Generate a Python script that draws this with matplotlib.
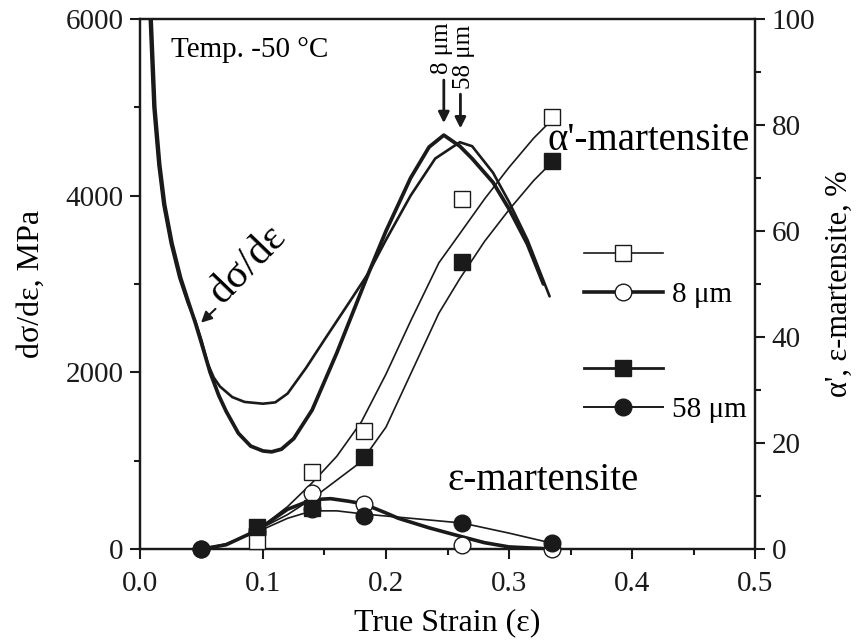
import matplotlib
matplotlib.use("Agg")
import matplotlib.pyplot as plt
from matplotlib.lines import Line2D

plt.rcParams['font.family'] = ['Liberation Serif', 'DejaVu Serif']
plt.rcParams['mathtext.fontset'] = 'stix'

# ---- strain-hardening rate curves (left axis, MPa) ----
hr_x_8 = [0.009, 0.012, 0.016, 0.020, 0.026, 0.033, 0.040, 0.045, 0.050, 0.057, 0.064, 0.07,
          0.08, 0.09, 0.10, 0.107, 0.115, 0.125, 0.14, 0.16, 0.186, 0.20, 0.22, 0.235, 0.247,
          0.26, 0.27, 0.287, 0.30, 0.315, 0.328]
hr_y_8 = [6000, 5000, 4350, 3900, 3460, 3070, 2770, 2560, 2330, 2000, 1740, 1560,
          1310, 1165, 1110, 1100, 1130, 1250, 1575, 2220, 3130, 3600, 4200, 4550, 4685,
          4560, 4420, 4150, 3850, 3450, 3000]
hr_x_58 = [0.008, 0.011, 0.015, 0.019, 0.025, 0.032, 0.039, 0.045, 0.050, 0.055, 0.060,
           0.065, 0.075, 0.085, 0.10, 0.11, 0.12, 0.135, 0.15, 0.17, 0.186, 0.20, 0.22,
           0.24, 0.26, 0.27, 0.287, 0.30, 0.315, 0.333]
hr_y_58 = [6000, 5000, 4350, 3900, 3460, 3070, 2780, 2580, 2360, 2100, 1940,
           1840, 1720, 1665, 1645, 1660, 1760, 2050, 2370, 2790, 3130, 3500, 4000,
           4420, 4605, 4560, 4260, 3930, 3500, 2860]

# ---- measured martensite fractions (right axis, %) ----
alpha_x = [0.095, 0.14, 0.182, 0.262, 0.335]
alpha_8 = [1.5, 14.5, 22.3, 66.0, 81.5]
alpha_58 = [4.2, 7.7, 17.4, 54.2, 73.2]
eps_x = [0.05, 0.095, 0.14, 0.182, 0.262, 0.335]
eps_8 = [0.0, 3.0, 10.5, 8.5, 0.7, 0.0]
eps_58 = [0.0, 3.5, 7.5, 6.2, 4.9, 1.1]

# ---- fitted curves through the fractions (right axis, %) ----
fit_alpha_x = [0.095, 0.12, 0.14, 0.16, 0.18, 0.20, 0.22, 0.243, 0.26, 0.28, 0.30, 0.32, 0.335]
fit_alpha_8 = [3.5, 8.0, 12.5, 17.5, 24.0, 33.0, 43.0, 54.0, 59.5, 66.0, 72.0, 77.5, 81.0]
fit_alpha_58 = [3.5, 6.5, 9.5, 13.0, 16.5, 23.0, 33.0, 44.5, 51.0, 58.0, 64.0, 69.5, 73.0]
fit_eps8_x = [0.05, 0.07, 0.095, 0.12, 0.14, 0.155, 0.17, 0.182, 0.20, 0.21, 0.235, 0.262,
              0.28, 0.30, 0.335]
fit_eps8_y = [0.0, 0.8, 3.5, 7.5, 9.3, 9.5, 9.0, 8.5, 6.8, 5.8, 4.0, 2.3, 1.2, 0.4, 0.0]
fit_eps58_x = [0.05, 0.07, 0.095, 0.12, 0.14, 0.16, 0.182, 0.22, 0.262, 0.30, 0.335]
fit_eps58_y = [0.0, 1.0, 3.2, 5.8, 7.2, 7.2, 6.6, 5.8, 4.9, 3.0, 1.1]

x_ticks = [0.0, 0.1, 0.2, 0.3, 0.4, 0.5]
x_ticklabels = ['0.0', '0.1', '0.2', '0.3', '0.4', '0.5']
left_ticks = [0, 2000, 4000, 6000]
right_ticks = [0, 20, 40, 60, 80, 100]

INK = '#1a1a1a'

fig = plt.figure(figsize=(8.62, 6.41), dpi=100)
ax = fig.add_axes([0.1624, 0.1435, 0.7135, 0.8269])
ax2 = ax.twinx()

ax.plot(hr_x_58, hr_y_58, color=INK, lw=1.9, solid_capstyle='round', solid_joinstyle='round')
ax.plot(hr_x_8, hr_y_8, color=INK, lw=2.7, solid_capstyle='round', solid_joinstyle='round')

ax.set_xlim(0, 0.5)
ax.set_ylim(0, 6000)
ax2.set_ylim(0, 100)

ax.set_xticks(x_ticks)
ax.set_xticklabels(x_ticklabels)
ax.set_xticks([0.05, 0.15, 0.25, 0.35, 0.45], minor=True)
ax.set_yticks(left_ticks)
ax.set_yticks([1000, 3000, 5000], minor=True)
ax2.set_yticks(right_ticks)
ax2.set_yticks([10, 30, 50, 70, 90], minor=True)

for a in (ax, ax2):
    a.tick_params(which='major', direction='out', length=7, width=1.5, labelsize=21,
                  colors=INK, pad=5)
    a.tick_params(which='minor', direction='out', length=4, width=1.5, colors=INK)
    for s in a.spines.values():
        s.set_linewidth(1.6)
        s.set_color(INK)
ax.tick_params(axis='x', which='major', pad=9)

# fitted lines
ax2.plot(fit_alpha_x, fit_alpha_8, color=INK, lw=1.2)
ax2.plot(fit_alpha_x, fit_alpha_58, color=INK, lw=1.2)
ax2.plot(fit_eps8_x, fit_eps8_y, color=INK, lw=2.6, solid_joinstyle='round')
ax2.plot(fit_eps58_x, fit_eps58_y, color=INK, lw=1.2)

# markers
ms = 12
ax2.plot(eps_x, eps_8, 'o', ms=ms, mfc='white', mec=INK, mew=1.0, clip_on=False, zorder=3)
ax2.plot(eps_x, eps_58, 'o', ms=ms, mfc=INK, mec=INK, clip_on=False, zorder=4)
ax2.plot(alpha_x, alpha_8, 's', ms=ms, mfc='white', mec=INK, mew=1.0, clip_on=False, zorder=5)
ax2.plot(alpha_x, alpha_58, 's', ms=ms, mfc=INK, mec=INK, clip_on=False, zorder=6)

ax.set_xlabel('True Strain (ε)', fontsize=23, labelpad=8)
ax.set_ylabel('dσ/dε, MPa', fontsize=23, labelpad=14)
ax2.set_ylabel("α', ε-martensite, %", fontsize=22, labelpad=7)

# annotations
ax.text(0.025, 5800, 'Temp. -50 °C', fontsize=21, ha='left', va='top')
ax2.text(0.331, 73.5, "α'-martensite", fontsize=28, ha='left', va='bottom')
ax2.text(0.25, 9.5, 'ε-martensite', fontsize=28, ha='left', va='bottom')
ax.text(0.067, 2760, 'dσ/dε', fontsize=30, rotation=46, rotation_mode='anchor',
        ha='left', va='baseline')
ax.annotate('', xy=(0.048, 2540), xytext=(0.063, 2740),
            arrowprops=dict(arrowstyle='-|>', color=INK, lw=1.5, mutation_scale=16))
ax.annotate('', xy=(0.247, 4790), xytext=(0.247, 5340),
            arrowprops=dict(arrowstyle='-|>', color=INK, lw=2, mutation_scale=16))
ax.annotate('', xy=(0.2605, 4730), xytext=(0.2605, 5180),
            arrowprops=dict(arrowstyle='-|>', color=INK, lw=2, mutation_scale=16))
ax.text(0.2455, 5380, '8 μm', fontsize=18, rotation=90, ha='center', va='bottom')
ax.text(0.2635, 5210, '58 μm', fontsize=18, rotation=90, ha='center', va='bottom')

# legends
h1 = [Line2D([], [], color=INK, lw=1.2, marker='s', ms=ms, mfc='white', mec=INK),
      Line2D([], [], color=INK, lw=2.6, marker='o', ms=ms, mfc='white', mec=INK)]
h2 = [Line2D([], [], color=INK, lw=2.0, marker='s', ms=ms, mfc=INK, mec=INK),
      Line2D([], [], color=INK, lw=1.4, marker='o', ms=ms, mfc=INK, mec=INK)]
leg1 = ax2.legend(h1, ['', '8 μm'], loc='upper left', bbox_to_anchor=(0.722, 0.577),
                  frameon=False, fontsize=21, handlelength=2.7, handletextpad=0.3,
                  labelspacing=0.42, borderpad=0, borderaxespad=0)
ax2.add_artist(leg1)
ax2.legend(h2, ['', '58 μm'], loc='upper left', bbox_to_anchor=(0.722, 0.36),
           frameon=False, fontsize=21, handlelength=2.7, handletextpad=0.3,
           labelspacing=0.42, borderpad=0, borderaxespad=0)

fig.savefig('out.png', dpi=100)
